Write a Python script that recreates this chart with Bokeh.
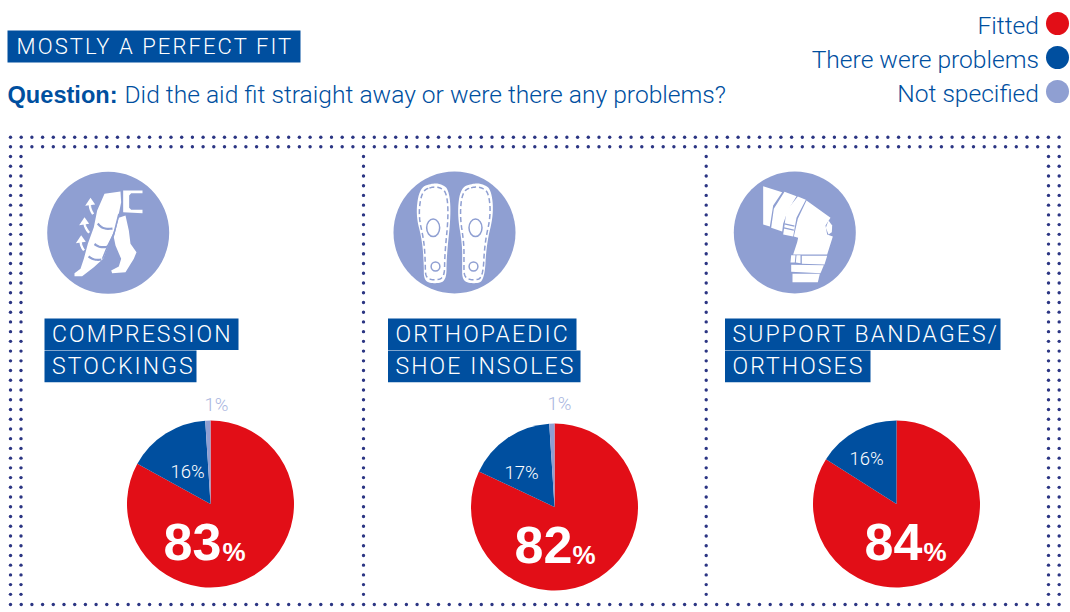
import math
import numpy as np
from bokeh.plotting import figure
from bokeh.layouts import column
from bokeh.models import Range1d
from bokeh.core.properties import value
from bokeh.embed import file_html
from bokeh.resources import INLINE

# ---------- data ----------
categories = ["Compression stockings", "Orthopaedic shoe insoles", "Support bandages/orthoses"]
series_names = ["Fitted", "There were problems", "Not specified"]
fitted = [83, 82, 84]
problems = [16, 17, 16]
not_specified = [1, 1, 0]
title_text = "MOSTLY A PERFECT FIT"
question_bold = "Question:"
question_text = "Did the aid fit straight away or were there any problems?"
panel_titles = [["COMPRESSION", "STOCKINGS"], ["ORTHOPAEDIC", "SHOE INSOLES"], ["SUPPORT BANDAGES/", "ORTHOSES"]]

# ---------- style ----------
RED, BLUE, LIGHT, DOT, PALE = "#e20e17", "#004f9f", "#8f9fd2", "#2b3583", "#aab6e0"
LF = value("Roboto Light")
BF = value("Liberation Sans")
W, H = 1070, 612


def canvas():
    f = figure(width=W, height=H, output_backend="svg", toolbar_location=None,
               x_range=Range1d(0, W), y_range=Range1d(H, 0), min_border=0)
    f.axis.visible = False
    f.grid.visible = False
    f.outline_line_color = None
    f.background_fill_alpha = 0
    f.border_fill_alpha = 0
    return f


p = canvas()


def box(f, x0, x1, y0, y1):
    f.quad(left=[x0], right=[x1], top=[y0], bottom=[y1], fill_color=BLUE, line_color=None)


def smooth(pts, n=3, closed=True):
    pts = [tuple(q) for q in pts]
    for _ in range(n):
        out = []
        m = len(pts)
        for i in range(m if closed else m - 1):
            a, b = pts[i], pts[(i + 1) % m]
            out.append((a[0] * .75 + b[0] * .25, a[1] * .75 + b[1] * .25))
            out.append((a[0] * .25 + b[0] * .75, a[1] * .25 + b[1] * .75))
        pts = out
    return pts


def poly(f, pts, ox, oy, color="white"):
    f.patch([ox + q[0] / 3 for q in pts], [oy + q[1] / 3 for q in pts], fill_color=color, line_color=None)


def path(f, pts, ox, oy, color, width=1.4, dash="solid"):
    f.line([ox + q[0] / 3 for q in pts], [oy + q[1] / 3 for q in pts], line_color=color, line_width=width, line_dash=dash)


# header
box(p, 7, 300, 30, 62)
p.text([7], [94], text=[question_bold], text_font=BF, text_font_style="bold", text_font_size="23.6px",
       text_color=BLUE, text_baseline="middle")
p.text([124], [94], text=[question_text], text_font=LF, text_font_size="24.6px", text_color=BLUE, text_baseline="middle")

# legend
for name, col, y in zip(series_names, [RED, BLUE, LIGHT], [25, 59, 93]):
    p.text([1038.5], [y], text=[name], text_font=LF, text_font_size="24.6px", text_color=BLUE,
           text_align="right", text_baseline="middle")
    p.scatter([1057], [y - 2], size=23, color=col, line_color=None)

# dotted frame
xs_top = np.arange(10, 1062, 10.7)
ys_side = np.arange(156, 600, 9.73)
for y in [136.7, 146.3]:
    p.scatter(xs_top, np.full(xs_top.shape, y), size=3.4, color=DOT, line_color=None)
p.scatter(xs_top, np.full(xs_top.shape, 604), size=3.4, color=DOT, line_color=None)
for x in [10, 20.5, 363, 705.7, 1048, 1058.7]:
    p.scatter(np.full(ys_side.shape, x), ys_side, size=3.4, color=DOT, line_color=None)

# icon discs
p.circle([107.7, 454, 794.3], [232.3, 232, 232], radius=61, radius_units="screen", fill_color=LIGHT, line_color=None)

# icon 1: legs
o1 = (0, 130)
poly(p, [(312, 190), (360, 183), (362, 215), (355, 250), (345, 290), (325, 340), (308, 385), (280, 410), (245, 437),
         (222, 437), (222, 428), (240, 415), (250, 385), (262, 340), (280, 290), (290, 240)], *o1)
poly(p, [(355, 262), (375, 255), (385, 300), (390, 340), (408, 365), (400, 385), (375, 425), (335, 428), (332, 420),
         (355, 408), (362, 385), (345, 345), (340, 320)], *o1)
poly(p, [(368, 180), (426, 180), (426, 188), (392, 188), (386, 195), (386, 232), (392, 238), (426, 238), (426, 248),
         (368, 245)], *o1)
for b in [[(282, 265), (305, 297), (360, 292)], [(268, 330), (300, 354), (342, 342)], [(252, 368), (280, 390), (320, 385)]]:
    path(p, smooth(b, 3, False), *o1, LIGHT, 2.2)
path(p, [(355, 250), (340, 310), (322, 345), (306, 385)], *o1, LIGHT, 1.5)
for tail, tip in [((285, 262), (268, 210)), ((275, 318), (250, 268)), ((258, 370), (240, 322))]:
    path(p, smooth([tail, ((tail[0] + tip[0]) / 2 - 8, (tail[1] + tip[1]) / 2), tip], 3, False), *o1, "white", 2.4)
    poly(p, [(tip[0] - 14, tip[1] + 16), (tip[0] + 2, tip[1] - 8), (tip[0] + 16, tip[1] + 12)], *o1)

# icon 2: insoles
o2 = (360, 130)
left = [(218, 158), (178, 170), (165, 250), (185, 330), (190, 400), (190, 452), (222, 460), (258, 452), (258, 380),
        (272, 250), (265, 175), (240, 160)]
right = [(342, 158), (300, 170), (290, 250), (305, 340), (305, 400), (305, 452), (340, 460), (372, 452), (378, 340),
         (400, 250), (392, 175), (365, 160)]
for sole, ec, sc in [(left, (218, 292), (225, 408)), (right, (345, 292), (339, 408))]:
    poly(p, smooth(sole), *o2)
    inner = [(q[0] * .85 + (sum(s[0] for s in sole) / 12) * .15, q[1] * .93 + 310 * .07) for q in sole]
    s_inner = smooth(inner)
    path(p, s_inner + s_inner[:1], *o2, LIGHT, 1.5, "5 3")
    p.ellipse([o2[0] + ec[0] / 3], [o2[1] + ec[1] / 3], width=[13], height=[17.5], fill_color=None, line_color=LIGHT, line_width=1.5)
    p.circle([o2[0] + sc[0] / 3], [o2[1] + sc[1] / 3], radius=4.4, radius_units="screen", fill_color=None, line_color=LIGHT, line_width=1.5)

# icon 3: knee
o3 = (700, 130)
poly(p, [(188, 167), (245, 185), (218, 225), (208, 288), (188, 282)], *o3)
poly(p, [(252, 184), (288, 197), (262, 240), (248, 280), (245, 303), (212, 292), (220, 235)], *o3)
poly(p, [(292, 198), (316, 208), (288, 262), (278, 318), (248, 312), (252, 285), (258, 240)], *o3)
poly(p, [(318, 210), (390, 262), (375, 285), (380, 312), (397, 318), (380, 372), (278, 372), (290, 335), (293, 322),
         (280, 318), (292, 265)], *o3)
poly(p, [(384, 270), (395, 285), (394, 305), (384, 312), (376, 292)], *o3)
path(p, [(252, 280), (282, 287)], *o3, LIGHT, 1.2)
path(p, [(250, 292), (280, 299)], *o3, LIGHT, 1.2)
poly(p, [(272, 374), (285, 374), (283, 396), (270, 396)], *o3)
poly(p, [(288, 374), (300, 374), (300, 398), (286, 396)], *o3)
poly(p, [(304, 376), (380, 376), (372, 402), (304, 400)], *o3)
poly(p, [(272, 403), (370, 404), (360, 428), (272, 424)], *o3)
poly(p, [(276, 430), (358, 430), (352, 455), (276, 455)], *o3)

# panel title boxes
box(p, 44, 238, 318, 349.5); box(p, 44, 196, 350, 381.7)
box(p, 387.5, 576, 318, 349.5); box(p, 387.5, 580, 350, 381.7)
box(p, 724.5, 1000, 318, 349.5); box(p, 724.5, 870, 350, 381.7)

# pies
cx = [210, 554, 896]
cy = [503.5, 506.5, 503.5]
R = 83.5
for i in range(3):
    start = 0.0
    for v, col in zip([fitted[i], problems[i], not_specified[i]], [RED, BLUE, LIGHT]):
        if v == 0:
            continue
        a0 = math.pi / 2 - 2 * math.pi * start / 100
        a1 = math.pi / 2 - 2 * math.pi * (start + v) / 100
        p.wedge([cx[i]], [cy[i]], radius=R, radius_units="screen", start_angle=a0, end_angle=a1, direction="clock",
                fill_color=col, line_color=None)
        start += v

# pie labels
big_x = [163, 514, 864]
big_base = [541.5, 544, 541.5]
pct_x = [222, 572, 923]
for i in range(3):
    p.text([big_x[i]], [big_base[i]], text=[str(fitted[i])], text_font=BF, text_font_style="bold", text_font_size="52px",
           text_color="white", text_baseline="alphabetic")
    p.text([pct_x[i]], [big_base[i] + 10], text=["%"], text_font=BF, text_font_style="bold", text_font_size="26px",
           text_color="white", text_baseline="alphabetic")
prob_xy = [(187, 471), (521, 472), (866, 458)]
for i, (x, y) in enumerate(prob_xy):
    p.text([x], [y], text=[f"{problems[i]}%"], text_font=LF, text_font_size="18.5px", text_color="white",
           text_align="center", text_baseline="middle")
small_xy = [(216, 404), (559, 403)]
for i, (x, y) in enumerate(small_xy):
    p.text([x], [y], text=[f"{not_specified[i]}%"], text_font=LF, text_font_size="18.5px", text_color=PALE,
           text_align="center", text_baseline="middle")

# letter-spaced titles on a transparent overlay
q = canvas()
q.styles = {"letter-spacing": "2.1px", "margin-top": f"-{H}px"}
q.text([16], [46], text=[title_text], text_font=LF, text_font_size="22px", text_color="white", text_baseline="alphabetic")
for (a, b), x in zip(panel_titles, [51.5, 395, 732]):
    q.text([x], [334], text=[a], text_font=LF, text_font_size="23px", text_color="white", text_baseline="alphabetic")
    q.text([x], [366], text=[b], text_font=LF, text_font_size="23px", text_color="white", text_baseline="alphabetic")

page = column(p, q, spacing=0)
open("out.html", "w").write(file_html(page, INLINE))
